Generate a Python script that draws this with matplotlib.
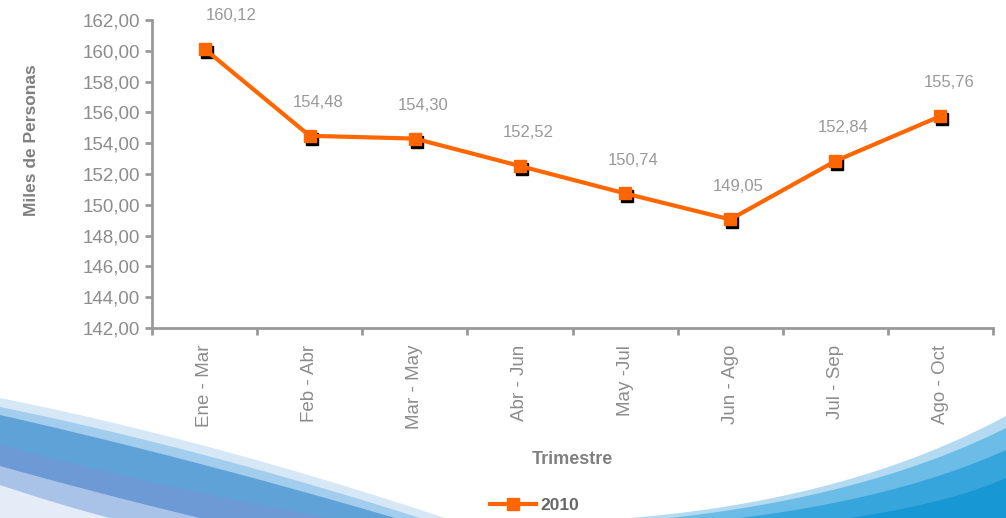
import matplotlib.pyplot as plt
import numpy as np
from matplotlib.lines import Line2D
from matplotlib.transforms import ScaledTranslation

plt.rcParams['font.family'] = ['Liberation Sans', 'DejaVu Sans']

trimestres = ["Ene - Mar", "Feb - Abr", "Mar - May", "Abr - Jun",
              "May -Jul", "Jun - Ago", "Jul - Sep", "Ago - Oct"]
personas_2010 = [160.12, 154.48, 154.30, 152.52, 150.74, 149.05, 152.84, 155.76]
yticks = [142, 144, 146, 148, 150, 152, 154, 156, 158, 160, 162]

gray = '#8c8c8c'
orange = '#ff6600'

fig = plt.figure(figsize=(10.06, 5.18), dpi=100)

# decorative swooshes at the bottom (background)
bg = fig.add_axes([0, 0, 1, 1], zorder=0)
bg.set_xlim(0, 1006)
bg.set_ylim(518, 0)
bg.axis('off')


def bez(p0, p1, p2, n=60):
    t = np.linspace(0, 1, n)[:, None]
    return (1 - t) ** 2 * np.array(p0) + 2 * (1 - t) * t * np.array(p1) + t ** 2 * np.array(p2)


def swoosh(p0, p1, p2, corner, color):
    c = bez(p0, p1, p2)
    pts = np.vstack([c, corner])
    bg.fill(pts[:, 0], pts[:, 1], color=color, lw=0)


# left
swoosh((0, 398), (210, 440), (445, 518), [(0, 518)], '#d6e8f6')
swoosh((0, 407), (200, 448), (420, 518), [(0, 518)], '#a3cdec')
swoosh((0, 415), (190, 458), (395, 518), [(0, 518)], '#5fa2d8')
swoosh((0, 445), (150, 485), (330, 518), [(0, 518)], '#6d9ad4')
swoosh((0, 466), (100, 494), (200, 518), [(0, 518)], '#a9c3e8')
swoosh((0, 485), (60, 505), (110, 518), [(0, 518)], '#e4ecf7')
# right
swoosh((630, 518), (850, 500), (1006, 416), [(1006, 518)], '#b3daf1')
swoosh((670, 518), (870, 496), (1006, 428), [(1006, 518)], '#6bbce6')
swoosh((740, 518), (900, 498), (1006, 450), [(1006, 518)], '#35a5dc')
swoosh((850, 518), (950, 503), (1006, 478), [(1006, 518)], '#1797d4')

ax = fig.add_axes([152 / 1006, 1 - 328 / 518, (993 - 152) / 1006, 308 / 518], zorder=1)
ax.patch.set_alpha(0)

x = np.arange(len(trimestres))
shadow = ax.transData + ScaledTranslation(2 / 100, -3 / 100, fig.dpi_scale_trans)
ax.plot(x, personas_2010, ls='none', marker='s', ms=9, color='black', transform=shadow)
ax.plot(x, personas_2010, color=orange, lw=3, marker='s', ms=9)

for i, v in enumerate(personas_2010):
    dx = 19 if i == 0 else 6
    ax.annotate(f"{v:.2f}".replace('.', ','), (i, v), xytext=(dx, 24),
                textcoords='offset points', ha='center', va='center',
                fontsize=12, color='#999999', annotation_clip=False)

ax.set_xlim(-0.5, len(trimestres) - 0.5)
ax.set_ylim(142, 162)
ax.set_yticks(yticks)
ax.set_yticklabels([f"{v:.2f}".replace('.', ',') for v in yticks])
ax.set_xticks(x)
ax.set_xticklabels(trimestres, rotation=90)
ax.set_xticks(np.arange(-0.5, len(trimestres)), minor=True)
ax.tick_params(axis='x', which='major', length=0, pad=12, labelsize=13.5, labelcolor=gray)
ax.tick_params(axis='x', which='minor', length=5, width=2, color='#999999')
ax.tick_params(axis='y', length=5, width=2, color='#999999', labelsize=13.5, labelcolor=gray)

for s in ['top', 'right']:
    ax.spines[s].set_visible(False)
for s in ['left', 'bottom']:
    ax.spines[s].set_color('#999999')
    ax.spines[s].set_linewidth(2)

fig.text(32 / 1006, 1 - 140 / 518, "Miles de Personas", rotation=90, ha='center', va='center',
         fontsize=12.5, fontweight='bold', color='#808080')
fig.text(572 / 1006, 1 - 460 / 518, "Trimestre", ha='center', va='center',
         fontsize=13, fontweight='bold', color='#808080')

handle = Line2D([], [], color=orange, lw=3, marker='s', ms=9)
leg = fig.legend([handle], ["2010"], loc='center', bbox_to_anchor=(535 / 1006, 1 - 505 / 518),
                 frameon=False, handlelength=2.6, handletextpad=0.3,
                 prop={'size': 12.5, 'weight': 'bold'})
for t in leg.get_texts():
    t.set_color('#666666')

fig.savefig('out.png', dpi=100)
